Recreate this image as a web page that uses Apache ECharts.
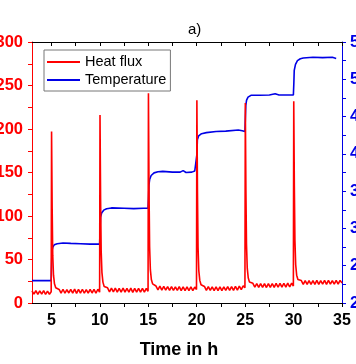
<!DOCTYPE html>
<html>
<head>
<meta charset="utf-8">
<script src="https://cdn.jsdelivr.net/npm/echarts@6/dist/echarts.min.js"></script>
<style>html,body{margin:0;padding:0;background:#fff;}#c{width:356px;height:364px;}</style>
</head>
<body>
<div id="c"></div>
<script>
// ---- data ----
const title = 'a)';
const xName = 'Time in h';
const seriesNames = ['Heat flux', 'Temperature'];
const xLabelValues = [5, 10, 15, 20, 25, 30, 35];
const xTickValues = [5, 7.5, 10, 12.5, 15, 17.5, 20, 22.5, 25, 27.5, 30, 32.5, 35];
const leftTickValues = [0, 25, 50, 75, 100, 125, 150, 175, 200, 225, 250, 275, 300];
const rightTickValues = [20, 22.5, 25, 27.5, 30, 32.5, 35, 37.5, 40, 42.5, 45, 47.5, 50, 52.5, 55];

// Heat flux [time h, value]
const heatFlux = [
  [3.0,13.8],[3.2,10.2],[3.4,14.1],[3.6,10.0],[3.8,13.9],[4.0,10.3],[4.2,14.2],[4.4,9.9],[4.6,13.7],[4.8,10.1],[4.98,13.0],
  [5.02,197],[5.08,110],[5.14,55],[5.22,32],[5.32,22],[5.45,17.5],[5.6,15.8],
  [5.8,15.6],[6.0,11.4],[6.2,15.8],[6.4,11.2],[6.6,15.5],[6.8,11.5],[7.0,15.7],[7.2,11.3],[7.4,15.9],[7.6,11.1],[7.8,15.6],[8.0,11.4],
  [8.2,15.8],[8.4,11.2],[8.6,15.5],[8.8,11.3],[9.0,15.7],[9.2,11.5],[9.4,15.6],[9.6,11.2],[9.8,15.8],[9.98,12.5],
  [10.02,216],[10.08,120],[10.14,60],[10.22,35],[10.32,24],[10.45,19],[10.6,17],
  [10.8,17.4],[11.0,12.9],[11.2,17.2],[11.4,12.7],[11.6,17.0],[11.8,12.6],[12.0,16.9],[12.2,12.5],[12.4,17.1],[12.6,12.4],[12.8,16.8],
  [13.0,12.6],[13.2,17.0],[13.4,12.3],[13.6,16.7],[13.8,12.5],[14.0,16.9],[14.2,12.4],[14.4,16.8],[14.6,12.6],[14.8,16.7],[14.98,13.5],
  [15.02,241],[15.08,130],[15.14,65],[15.22,38],[15.32,27],[15.45,22],[15.6,20],
  [15.8,19.5],[16.0,15.1],[16.2,19.3],[16.4,14.9],[16.6,19.0],[16.8,14.8],[17.0,18.9],[17.2,14.6],[17.4,18.8],[17.6,14.5],[17.8,18.6],
  [18.0,14.4],[18.2,18.7],[18.4,14.3],[18.6,18.5],[18.8,14.2],[19.0,18.4],[19.2,14.3],[19.4,18.5],[19.6,14.1],[19.8,18.3],[19.98,15.5],
  [20.02,233],[20.08,128],[20.14,64],[20.22,37],[20.32,26],[20.45,21],[20.6,19.5],
  [20.8,19.0],[21.0,14.6],[21.2,18.8],[21.4,14.4],[21.6,18.6],[21.8,14.3],[22.0,18.5],[22.2,14.2],[22.4,18.6],[22.6,14.3],[22.8,18.5],
  [23.0,14.4],[23.2,18.7],[23.4,14.5],[23.6,18.8],[23.8,14.6],[24.0,19.0],[24.2,14.9],[24.4,19.3],[24.6,15.3],[24.8,19.8],[24.98,17.5],
  [25.02,230],[25.08,130],[25.14,68],[25.22,40],[25.32,29],[25.45,24],[25.6,22.5],
  [25.8,22.6],[26.0,18.2],[26.2,22.4],[26.4,18.0],[26.6,22.3],[26.8,17.9],[27.0,22.2],[27.2,17.8],[27.4,22.3],[27.6,17.9],[27.8,22.4],
  [28.0,18.0],[28.2,22.5],[28.4,18.1],[28.6,22.6],[28.8,18.2],[29.0,22.7],[29.2,18.3],[29.4,22.8],[29.6,18.4],[29.8,22.9],[29.98,19.5],
  [30.02,232],[30.08,135],[30.14,72],[30.22,44],[30.32,32],[30.45,27],[30.6,25.5],
  [30.8,25.8],[31.0,21.4],[31.2,25.6],[31.4,21.3],[31.6,25.7],[31.8,21.4],[32.0,25.8],[32.2,21.5],[32.4,25.9],[32.6,21.4],[32.8,25.7],
  [33.0,21.6],[33.2,25.9],[33.4,21.5],[33.6,26.0],[33.8,21.7],[34.0,25.8],[34.2,21.6],[34.4,25.9],[34.6,21.8],[34.8,26.0],[35.0,23.0]
];

// Temperature [time h, value]
const temperature = [
  [3.0,23.0],[4.0,23.0],[4.98,23.0],
  [5.02,25.0],[5.06,27.0],[5.15,27.5],[5.3,27.8],[5.6,27.95],[6.2,28.05],[7.0,28.0],[8.0,27.95],[9.0,27.9],[9.98,27.9],
  [10.03,30.0],[10.07,31.5],[10.2,32.1],[10.4,32.45],[10.7,32.65],[11.2,32.75],[12.5,32.7],[13.5,32.65],[14.5,32.7],[14.98,32.7],
  [15.03,34.0],[15.07,35.8],[15.15,36.6],[15.3,37.1],[15.6,37.45],[16.0,37.6],[16.5,37.65],[17.5,37.55],[18.3,37.55],[18.6,37.75],[18.9,37.5],[19.5,37.55],[19.8,37.7],[19.98,37.6],
  [20.03,40.0],[20.07,41.9],[20.2,42.4],[20.5,42.7],[21.0,42.85],[22.0,43.0],[23.0,43.05],[24.3,43.2],[24.7,43.1],[24.98,43.0],
  [25.03,45.0],[25.07,46.5],[25.15,47.2],[25.3,47.6],[25.6,47.85],[26.5,47.85],[27.5,47.9],[28.1,48.05],[28.5,47.9],[29.5,47.9],[29.98,47.9],
  [30.03,49.5],[30.07,51.2],[30.2,52.0],[30.4,52.5],[30.7,52.75],[31.0,52.85],[32.0,52.95],[33.0,52.9],[34.0,52.95],[34.4,52.8]
];

const RED = '#ff0000';
const BLUE = '#0000e6';
const FONT = 'Liberation Sans, Arial, sans-serif';

const chart = echarts.init(document.getElementById('c'), null, {renderer: 'canvas'});
chart.setOption({
  animation: false,
  backgroundColor: '#fff',
  title: {
    text: title, left: 183, top: 17,
    textStyle: {fontFamily: FONT, fontSize: 15, fontWeight: 'normal', color: '#000'}
  },
  legend: {
    data: [
      {name: seriesNames[0], icon: 'rect', itemStyle: {color: RED}},
      {name: seriesNames[1], icon: 'rect', itemStyle: {color: BLUE}}
    ],
    orient: 'vertical',
    left: 44, top: 50,
    padding: [4, 4, 3, 3],
    itemWidth: 33, itemHeight: 2, itemGap: 2,
    backgroundColor: '#fff',
    borderColor: '#777', borderWidth: 1, borderRadius: 0,
    textStyle: {fontFamily: FONT, fontSize: 14.5, color: '#000', lineHeight: 16}
  },
  grid: {left: 32, right: 14, top: 42, bottom: 61, containLabel: false, outerBoundsMode: 'none'},
  xAxis: [
    {
      type: 'value', position: 'bottom', min: 3, max: 35,
      name: xName, nameLocation: 'middle', nameGap: 38,
      nameTextStyle: {fontFamily: FONT, fontSize: 18, fontWeight: 'bold', color: '#000', padding: [0, 16, 0, 0]},
      axisLine: {show: true, lineStyle: {color: '#000', width: 1}},
      axisTick: {show: true, inside: false, length: 4, customValues: xTickValues, lineStyle: {color: '#000'}},
      axisLabel: {show: true, customValues: xLabelValues, margin: 10, fontFamily: FONT, fontSize: 16, fontWeight: 'bold', color: '#000'},
      splitLine: {show: false}
    },
    {
      type: 'value', position: 'top', min: 3, max: 35,
      axisLine: {show: true, lineStyle: {color: '#000', width: 1}},
      axisTick: {show: true, inside: true, length: 4, customValues: xTickValues, lineStyle: {color: '#000'}},
      axisLabel: {show: false},
      splitLine: {show: false}
    }
  ],
  yAxis: [
    {
      type: 'value', position: 'left', min: 0, max: 300, interval: 50,
      axisLine: {show: true, lineStyle: {color: RED, width: 1}},
      axisTick: {show: true, inside: false, length: 4, customValues: leftTickValues, lineStyle: {color: RED}},
      axisLabel: {show: true, margin: 9, showMinLabel: true, showMaxLabel: true, fontFamily: FONT, fontSize: 16.5, fontWeight: 'bold', color: RED},
      splitLine: {show: false}
    },
    {
      type: 'value', position: 'right', min: 20, max: 55, interval: 5,
      axisLine: {show: true, lineStyle: {color: BLUE, width: 1}},
      axisTick: {show: true, inside: false, length: 4, customValues: rightTickValues, lineStyle: {color: BLUE}},
      axisLabel: {show: true, margin: 8, showMinLabel: true, showMaxLabel: true, fontFamily: FONT, fontSize: 16.5, fontWeight: 'bold', color: BLUE},
      splitLine: {show: false}
    }
  ],
  series: [
    {
      name: seriesNames[1], type: 'line', xAxisIndex: 0, yAxisIndex: 1,
      data: temperature, symbol: 'none', smooth: false,
      lineStyle: {color: BLUE, width: 1.6}, itemStyle: {color: BLUE}, z: 2
    },
    {
      name: seriesNames[0], type: 'line', xAxisIndex: 0, yAxisIndex: 0,
      data: heatFlux, symbol: 'none', smooth: false,
      lineStyle: {color: RED, width: 1.6}, itemStyle: {color: RED}, z: 3
    }
  ]
});
</script>
</body>
</html>
